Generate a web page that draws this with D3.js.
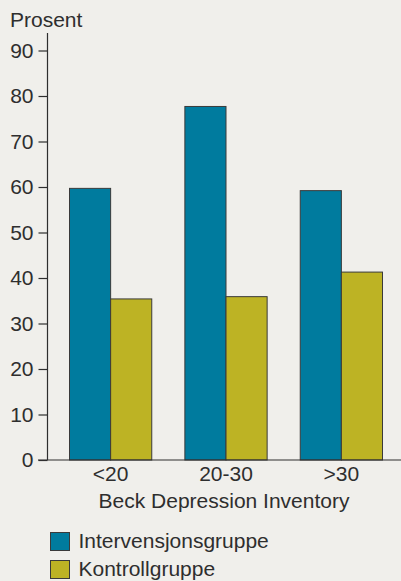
<!DOCTYPE html>
<html><head><meta charset="utf-8">
<script src="https://cdn.jsdelivr.net/npm/d3@7"></script>
<style>
html,body{margin:0;padding:0;background:#f0efeb;}
svg{display:block;}
text{font-family:"Liberation Sans","Helvetica",sans-serif;fill:#2e2e2e;}
</style></head>
<body>
<script>
const categories = ["<20", "20-30", ">30"];
const seriesNames = ["Intervensjonsgruppe", "Kontrollgruppe"];
const intervensjon = [59.7, 77.7, 59.2];
const kontroll = [35.4, 35.9, 41.3];
const yTicks = [0, 10, 20, 30, 40, 50, 60, 70, 80, 90];
const colors = ["#007b9e", "#bdb324"];
const FS = 21;

const W = 401, H = 581;
const svg = d3.select("body").append("svg").attr("width", W).attr("height", H);
svg.append("rect").attr("width", W).attr("height", H).attr("fill", "#f0efeb");

const y = d3.scaleLinear().domain([0, 90]).range([460, 50.5]);
const x = d3.scaleBand().domain(categories).range([69.5, 382.5]).paddingInner(0.287).paddingOuter(0);
const xs = d3.scaleBand().domain(seriesNames).range([0, x.bandwidth()]);

const data = categories.map((c, i) => ({c, vals: [intervensjon[i], kontroll[i]]}));

const g = svg.append("g");
g.selectAll("g.grp").data(data).join("g").attr("class", "grp")
  .attr("transform", d => `translate(${x(d.c)},0)`)
  .selectAll("rect").data(d => d.vals.map((v, k) => ({v, k})))
  .join("rect")
  .attr("x", d => xs(seriesNames[d.k]))
  .attr("y", d => y(d.v))
  .attr("width", xs.bandwidth())
  .attr("height", d => y(0) - y(d.v))
  .attr("fill", d => colors[d.k])
  .attr("stroke", "#3a3a3a").attr("stroke-width", 1);

// y axis
const yAxis = d3.axisLeft(y).tickValues(yTicks).tickSize(9).tickSizeOuter(0).tickPadding(5);
const ya = svg.append("g").attr("transform", "translate(47.5,0)").call(yAxis);
ya.select(".domain").remove();
ya.append("line").attr("x1", 0).attr("x2", 0).attr("y1", 33).attr("y2", 460).attr("stroke", "#2e2e2e").attr("stroke-width", 1.2);
ya.selectAll(".tick line").attr("stroke", "#2e2e2e").attr("stroke-width", 1.2);
ya.selectAll(".tick text").attr("font-size", FS).attr("fill", "#2e2e2e").attr("font-family", "Liberation Sans, sans-serif");

// x axis
const xAxis = d3.axisBottom(x).tickSize(0).tickPadding(6);
const xa = svg.append("g").attr("transform", "translate(0,460)").call(xAxis);
xa.select(".domain").remove();
xa.append("line").attr("x1", 38).attr("x2", 401).attr("y1", 0).attr("y2", 0).attr("stroke", "#2e2e2e").attr("stroke-width", 1.2);
xa.selectAll(".tick text").attr("font-size", FS).attr("fill", "#2e2e2e").attr("font-family", "Liberation Sans, sans-serif");

svg.append("text").attr("x", 224).attr("y", 508).attr("text-anchor", "middle").attr("font-size", FS).text("Beck Depression Inventory");
svg.append("text").attr("x", 10).attr("y", 27).attr("font-size", FS).text("Prosent");

// legend
const leg = svg.append("g").selectAll("g").data(seriesNames).join("g")
  .attr("transform", (d, i) => `translate(50.5,${532.5 + i * 28})`);
leg.append("rect").attr("width", 19).attr("height", 18).attr("fill", (d, i) => colors[i]).attr("stroke", "#3a3a3a");
leg.append("text").attr("x", 28).attr("y", 15).attr("font-size", FS).text(d => d);
</script>
</body></html>
